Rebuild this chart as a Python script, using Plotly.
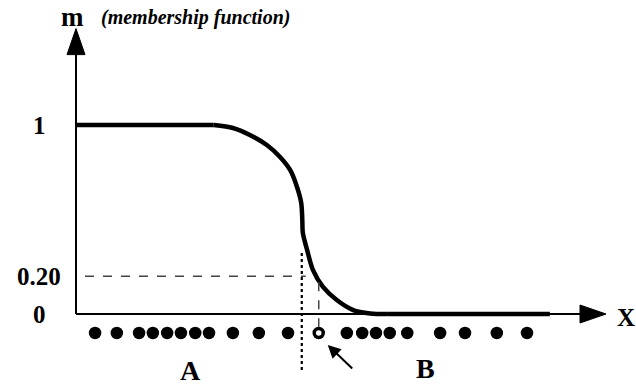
import plotly.graph_objects as go

# ---- data ----
curve_x = [0, 2.60, 2.96, 3.28, 3.60, 3.85, 4.04, 4.17, 4.25, 4.27, 4.28, 4.36, 4.47, 4.66, 4.92, 5.23, 5.55, 5.87, 8.94]
curve_mu = [1, 1, 0.984, 0.947, 0.894, 0.831, 0.762, 0.672, 0.587, 0.497, 0.429, 0.339, 0.233, 0.143, 0.074, 0.021, 0.003, 0, 0]

dots_a_x = [0.36, 0.77, 1.19, 1.45, 1.72, 1.98, 2.25, 2.51, 2.96, 3.45, 4.00]
dots_b_x = [5.11, 5.40, 5.66, 5.92, 6.25, 6.87, 7.34, 7.94, 8.51]
sample_x = 4.58
sample_mu = 0.20
boundary_x = 4.26

tick_vals = [1, 0.2, 0]
tick_text = ["1", "0.20", "0"]

X_END = 10.0
Y_END = 1.51

# ---- pixel <-> data helpers (layout) ----
W, H = 636, 388
PX_X0, PX_PER_X = 76, 53.0
PX_Y0, PX_PER_Y = 314, 189.0
x_range = [-PX_X0 / PX_PER_X, (W - PX_X0) / PX_PER_X]
y_range = [-(H - PX_Y0) / PX_PER_Y, PX_Y0 / PX_PER_Y]
def dx(px): return px / PX_PER_X
def dy(px): return px / PX_PER_Y

row_mu = -dy(19)

# split curve: flat parts linear, transition as a smooth spline
i1 = max(i for i, v in enumerate(curve_mu) if v == 1)
i0 = min(i for i, v in enumerate(curve_mu) if v == 0)

fig = go.Figure()
curve_line = dict(color="black", width=4.5)
fig.add_trace(go.Scatter(x=curve_x[:i1 + 1], y=curve_mu[:i1 + 1], mode="lines",
                         line=curve_line, hoverinfo="skip"))
fig.add_trace(go.Scatter(x=curve_x[i1:i0 + 1], y=curve_mu[i1:i0 + 1], mode="lines",
                         line=dict(curve_line, shape="spline", smoothing=0.8), hoverinfo="skip"))
fig.add_trace(go.Scatter(x=curve_x[i0:], y=curve_mu[i0:], mode="lines",
                         line=curve_line, hoverinfo="skip"))
fig.add_trace(go.Scatter(x=dots_a_x + dots_b_x, y=[row_mu] * (len(dots_a_x) + len(dots_b_x)),
                         mode="markers", marker=dict(color="black", size=12.5), hoverinfo="skip"))
fig.add_trace(go.Scatter(x=[sample_x], y=[row_mu], mode="markers",
                         marker=dict(symbol="circle-open", color="black", size=9, line=dict(width=3.5)),
                         hoverinfo="skip"))

shapes = []
# axes
shapes.append(dict(type="line", x0=0, y0=0, x1=X_END - dx(20), y1=0, line=dict(color="black", width=2)))
shapes.append(dict(type="line", x0=0, y0=0, x1=0, y1=Y_END - dy(20), line=dict(color="black", width=2)))
# arrowheads
aw, al = dx(9), dy(26)
shapes.append(dict(type="path", path=f"M {-aw},{Y_END - al} L {aw},{Y_END - al} L 0,{Y_END} Z",
                   fillcolor="black", line=dict(color="black", width=1)))
bl, bw = dx(26), dy(9)
shapes.append(dict(type="path", path=f"M {X_END - bl},{-bw} L {X_END - bl},{bw} L {X_END},0 Z",
                   fillcolor="black", line=dict(color="black", width=1)))
# dashed horizontal at 0.20
shapes.append(dict(type="line", x0=dx(9), y0=sample_mu, x1=boundary_x + dx(4), y1=sample_mu,
                   line=dict(color="#444", width=1.5, dash="dash")))
# dotted vertical boundary
shapes.append(dict(type="line", x0=boundary_x, y0=dy(61), x1=boundary_x, y1=-dy(59),
                   line=dict(color="black", width=2.2, dash="dot")))
# dashed vertical from curve to sample
shapes.append(dict(type="line", x0=sample_x, y0=sample_mu - dy(6), x1=sample_x, y1=row_mu + dy(5),
                   line=dict(color="#444", width=1.5, dash="dash")))
fig.update_layout(shapes=shapes)

serif = "Liberation Serif"
ann = []
for v, t in zip(tick_vals, tick_text):
    ann.append(dict(x=-dx(37), y=v, text=f"<b>{t}</b>", showarrow=False,
                    font=dict(family=serif, size=25, color="black"), xanchor="center", yanchor="middle"))
ann.append(dict(x=-dx(4), y=dy(297), text="<b>m</b>", showarrow=False,
                font=dict(family=serif, size=27, color="black"), xanchor="center", yanchor="middle"))
ann.append(dict(x=dx(23), y=dy(297), text="<b><i>(membership function)</i></b>", showarrow=False,
                font=dict(family=serif, size=20, color="black"), xanchor="left", yanchor="middle"))
ann.append(dict(x=X_END + dx(20), y=-dy(3), text="<b>X</b>", showarrow=False,
                font=dict(family=serif, size=25, color="black"), xanchor="center", yanchor="middle"))
ann.append(dict(x=dx(190 - 76), y=-dy(56), text="<b>A</b>", showarrow=False,
                font=dict(family=serif, size=28, color="black"), xanchor="center", yanchor="middle"))
ann.append(dict(x=dx(425 - 76), y=-dy(54), text="<b>B</b>", showarrow=False,
                font=dict(family=serif, size=28, color="black"), xanchor="center", yanchor="middle"))
# arrow pointing at the sample point
ann.append(dict(x=sample_x + dx(9), y=row_mu - dy(12), ax=sample_x + dx(35), ay=row_mu - dy(37),
                xref="x", yref="y", axref="x", ayref="y", text="", showarrow=True,
                arrowhead=2, arrowsize=1.3, arrowwidth=2, arrowcolor="black"))
fig.update_layout(annotations=ann)

fig.update_layout(width=W, height=H, margin=dict(l=0, r=0, t=0, b=0),
                  paper_bgcolor="white", plot_bgcolor="white", showlegend=False,
                  xaxis=dict(range=x_range, visible=False, fixedrange=True),
                  yaxis=dict(range=y_range, visible=False, fixedrange=True))

fig.write_html("out.html", config={"displayModeBar": False},
               post_script="document.body.style.margin='0px';document.body.style.overflow='hidden';")
